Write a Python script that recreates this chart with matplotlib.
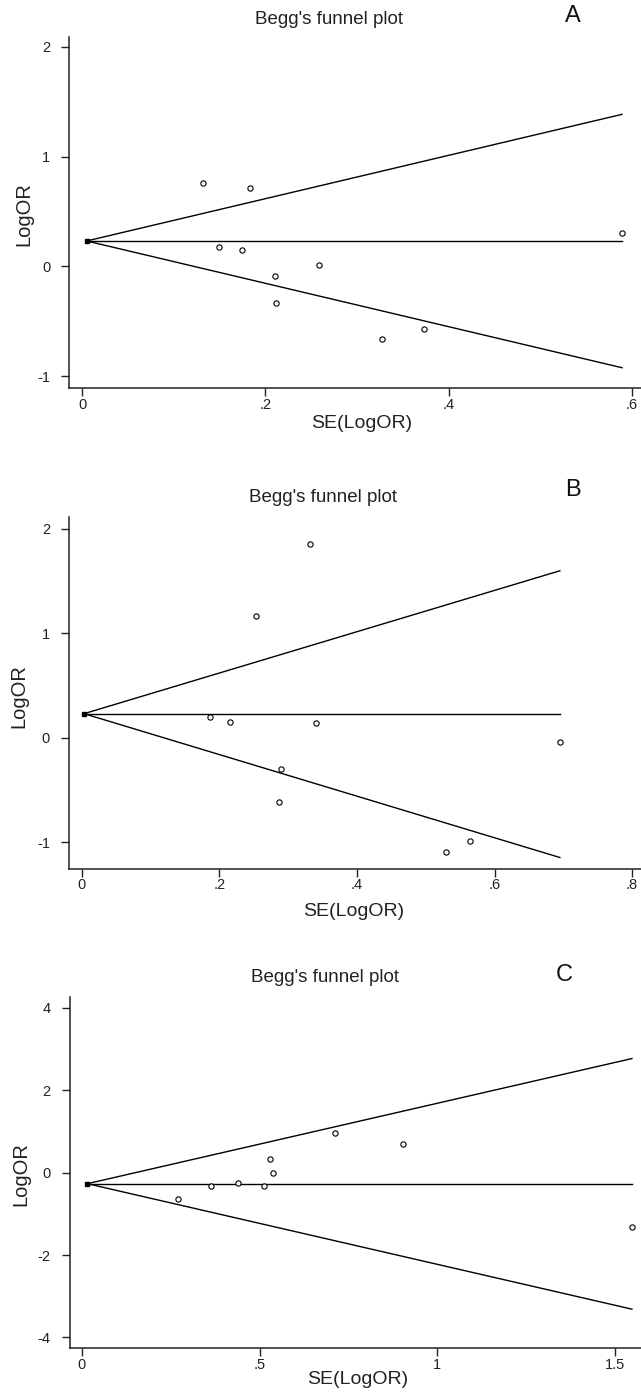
import matplotlib
matplotlib.use("Agg")
import matplotlib.pyplot as plt

plt.rcParams['font.family'] = ['Liberation Sans', 'DejaVu Sans']

# ---------- valores ----------
# Painel A
se_A = [0.132, 0.183, 0.149, 0.174, 0.258, 0.2105, 0.212, 0.327, 0.373, 0.589]
lor_A = [0.757, 0.718, 0.173, 0.148, 0.008, -0.092, -0.333, -0.662, -0.574, 0.301]
pooled_A = 0.231
se_line_A = [0.005, 0.589]
upper_A = [0.231, 1.385]
lower_A = [0.231, -0.924]
xticks_A = [0, 0.2, 0.4, 0.6]
xlabels_A = ['0', '.2', '.4', '.6']
yticks_A = [-1, 0, 1, 2]

# Painel B
se_B = [0.331, 0.253, 0.186, 0.215, 0.341, 0.290, 0.287, 0.529, 0.564, 0.695]
lor_B = [1.855, 1.164, 0.195, 0.153, 0.141, -0.297, -0.617, -1.094, -0.988, -0.045]
pooled_B = 0.230
se_line_B = [0.003, 0.695]
upper_B = [0.230, 1.596]
lower_B = [0.230, -1.145]
xticks_B = [0, 0.2, 0.4, 0.6, 0.8]
xlabels_B = ['0', '.2', '.4', '.6', '.8']
yticks_B = [-1, 0, 1, 2]

# Painel C
se_C = [0.271, 0.364, 0.439, 0.513, 0.529, 0.537, 0.712, 0.904, 1.549]
lor_C = [-0.650, -0.317, -0.252, -0.317, 0.325, -0.016, 0.967, 0.699, -1.324]
pooled_C = -0.268
se_line_C = [0.015, 1.549]
upper_C = [-0.268, 2.770]
lower_C = [-0.268, -3.314]
xticks_C = [0, 0.5, 1, 1.5]
xlabels_C = ['0', '.5', '1', '1.5']
yticks_C = [-4, -2, 0, 2, 4]
###############################################

W, H = 641, 1395
fig = plt.figure(figsize=(W / 100, H / 100), dpi=100)


def px_ax(left, right, top, bottom):
    return fig.add_axes([left / W, 1 - bottom / H, (right - left) / W, (bottom - top) / H])


def painel(ax, se, lor, pooled, se_line, up, lo, xt, xl, yt, xlim, ylim):
    ax.plot(se_line, up, color='black', lw=1.0)
    ax.plot(se_line, lo, color='black', lw=1.0)
    ax.plot(se_line, [pooled, pooled], color='black', lw=1.0)
    ax.plot(se_line[0], pooled, 's', color='black', ms=2.5)
    ax.plot(se, lor, 'o', mfc='white', mec='black', ms=3.8, mew=0.8, ls='none')
    ax.set_xlim(*xlim)
    ax.set_ylim(*ylim)
    ax.set_xticks(xt)
    ax.set_xticklabels(xl)
    ax.set_yticks(yt)
    ax.set_yticklabels([str(v) for v in yt])
    for s in ['top', 'right']:
        ax.spines[s].set_visible(False)
    for s in ['left', 'bottom']:
        ax.spines[s].set_linewidth(1.1)
        ax.spines[s].set_color('#222222')
    ax.tick_params(axis='both', direction='out', length=5.5, width=1.0,
                   colors='#222222', labelsize=10.5)
    ax.tick_params(axis='y', pad=8)
    ax.tick_params(axis='x', pad=1.5)
    ax.patch.set_alpha(0)


def txt(x, y, s, **kw):
    fig.text(x / W, 1 - y / H, s, ha='center', va='center', **kw)


axA = px_ax(69, 641, 37, 388)
painel(axA, se_A, lor_A, pooled_A, se_line_A, upper_A, lower_A,
       xticks_A, xlabels_A, yticks_A, (-0.0142, 0.6098), (-1.109, 2.09))
axB = px_ax(68.7, 641, 516.8, 868.7)
painel(axB, se_B, lor_B, pooled_B, se_line_B, upper_B, lower_B,
       xticks_B, xlabels_B, yticks_B, (-0.0193, 0.813), (-1.252, 2.112))
axC = px_ax(69.5, 641, 996.9, 1348)
painel(axC, se_C, lor_C, pooled_C, se_line_C, upper_C, lower_C,
       xticks_C, xlabels_C, yticks_C, (-0.0352, 1.5746), (-4.257, 4.267))

# títulos, letras e rótulos dos eixos
for (tx, ty), (lx, ly), letra, (xx, xy), (yx, yy) in [
        ((329, 19), (573, 16.5), 'A', (362, 423), (24, 214)),
        ((323, 498), (573, 490), 'B', (354, 911), (18.5, 696)),
        ((325, 977), (564, 975), 'C', (358, 1380), (20.5, 1174))]:
    txt(tx, ty, "Begg's funnel plot", fontsize=13.5, color='#222222')
    txt(lx, ly, letra, fontsize=17, color='#111111')
    txt(xx, xy, 'SE(LogOR)', fontsize=14, color='#222222')
    txt(yx, yy, 'LogOR', fontsize=14.5, color='#222222', rotation=90)

fig.savefig('out.png', dpi=100)
